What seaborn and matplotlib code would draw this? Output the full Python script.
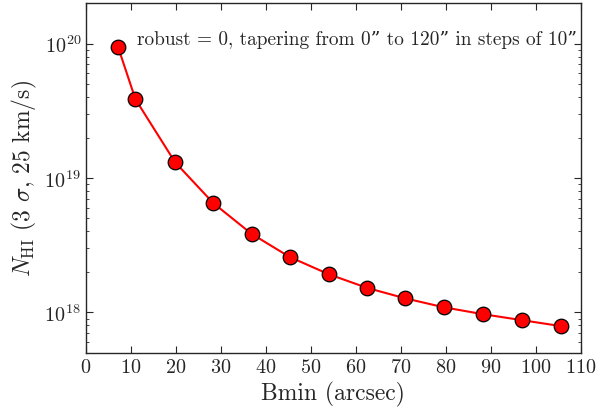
import numpy as np
import pandas as pd
import matplotlib
matplotlib.use("Agg")
import matplotlib.pyplot as plt
import seaborn as sns

# beam minor axis (arcsec) and 3-sigma column density limit
bmin = [7.1, 11.0, 19.8, 28.3, 36.8, 45.3, 54.0, 62.5, 71.0, 79.6, 88.2, 96.9, 105.6]
nhi = [9.5e19, 3.85e19, 1.31e19, 6.5e18, 3.84e18, 2.58e18, 1.92e18,
       1.52e18, 1.27e18, 1.09e18, 0.97e18, 0.875e18, 0.79e18]
xticks = [0, 10, 20, 30, 40, 50, 60, 70, 80, 90, 100, 110]

sns.set_style("ticks")
plt.rcParams['font.family'] = ['cmr10', 'DejaVu Serif']
plt.rcParams['mathtext.fontset'] = 'cm'
plt.rcParams['axes.unicode_minus'] = False
plt.rcParams['axes.formatter.use_mathtext'] = True

df = pd.DataFrame({'Bmin': bmin, 'NHI': nhi})

fig = plt.figure(figsize=(5.97, 4.10), dpi=100)
ax = fig.add_axes([0.144, 0.137, 0.829, 0.853])

sns.lineplot(data=df, x='Bmin', y='NHI', ax=ax, color='red', linewidth=1.5,
             marker='o', markersize=10.5, markerfacecolor='red',
             markeredgecolor='black', markeredgewidth=0.9)

ax.set_yscale('log')
ax.set_xlim(0, 110)
ax.set_ylim(5e17, 2e20)
ax.set_xticks(xticks)
ax.tick_params(which='both', direction='in', top=True, right=True, labelsize=14.5)
ax.tick_params(which='major', length=5, width=0.8)
ax.tick_params(which='minor', length=2.5, width=0.6)
ax.tick_params(axis='x', which='minor', bottom=False, top=False)
for s in ax.spines.values():
    s.set_linewidth(1.0)

ax.set_xlabel('Bmin (arcsec)', fontsize=17)
ax.set_ylabel(r'$N_{\rm HI}$ (3 $\sigma$, 25 km/s)', fontsize=17)
ax.text(0.103, 0.897, 'robust = 0, tapering from 0” to 120” in steps of 10”',
        transform=ax.transAxes, fontsize=13.9, va='center', ha='left')

fig.savefig('out.png', dpi=100)
